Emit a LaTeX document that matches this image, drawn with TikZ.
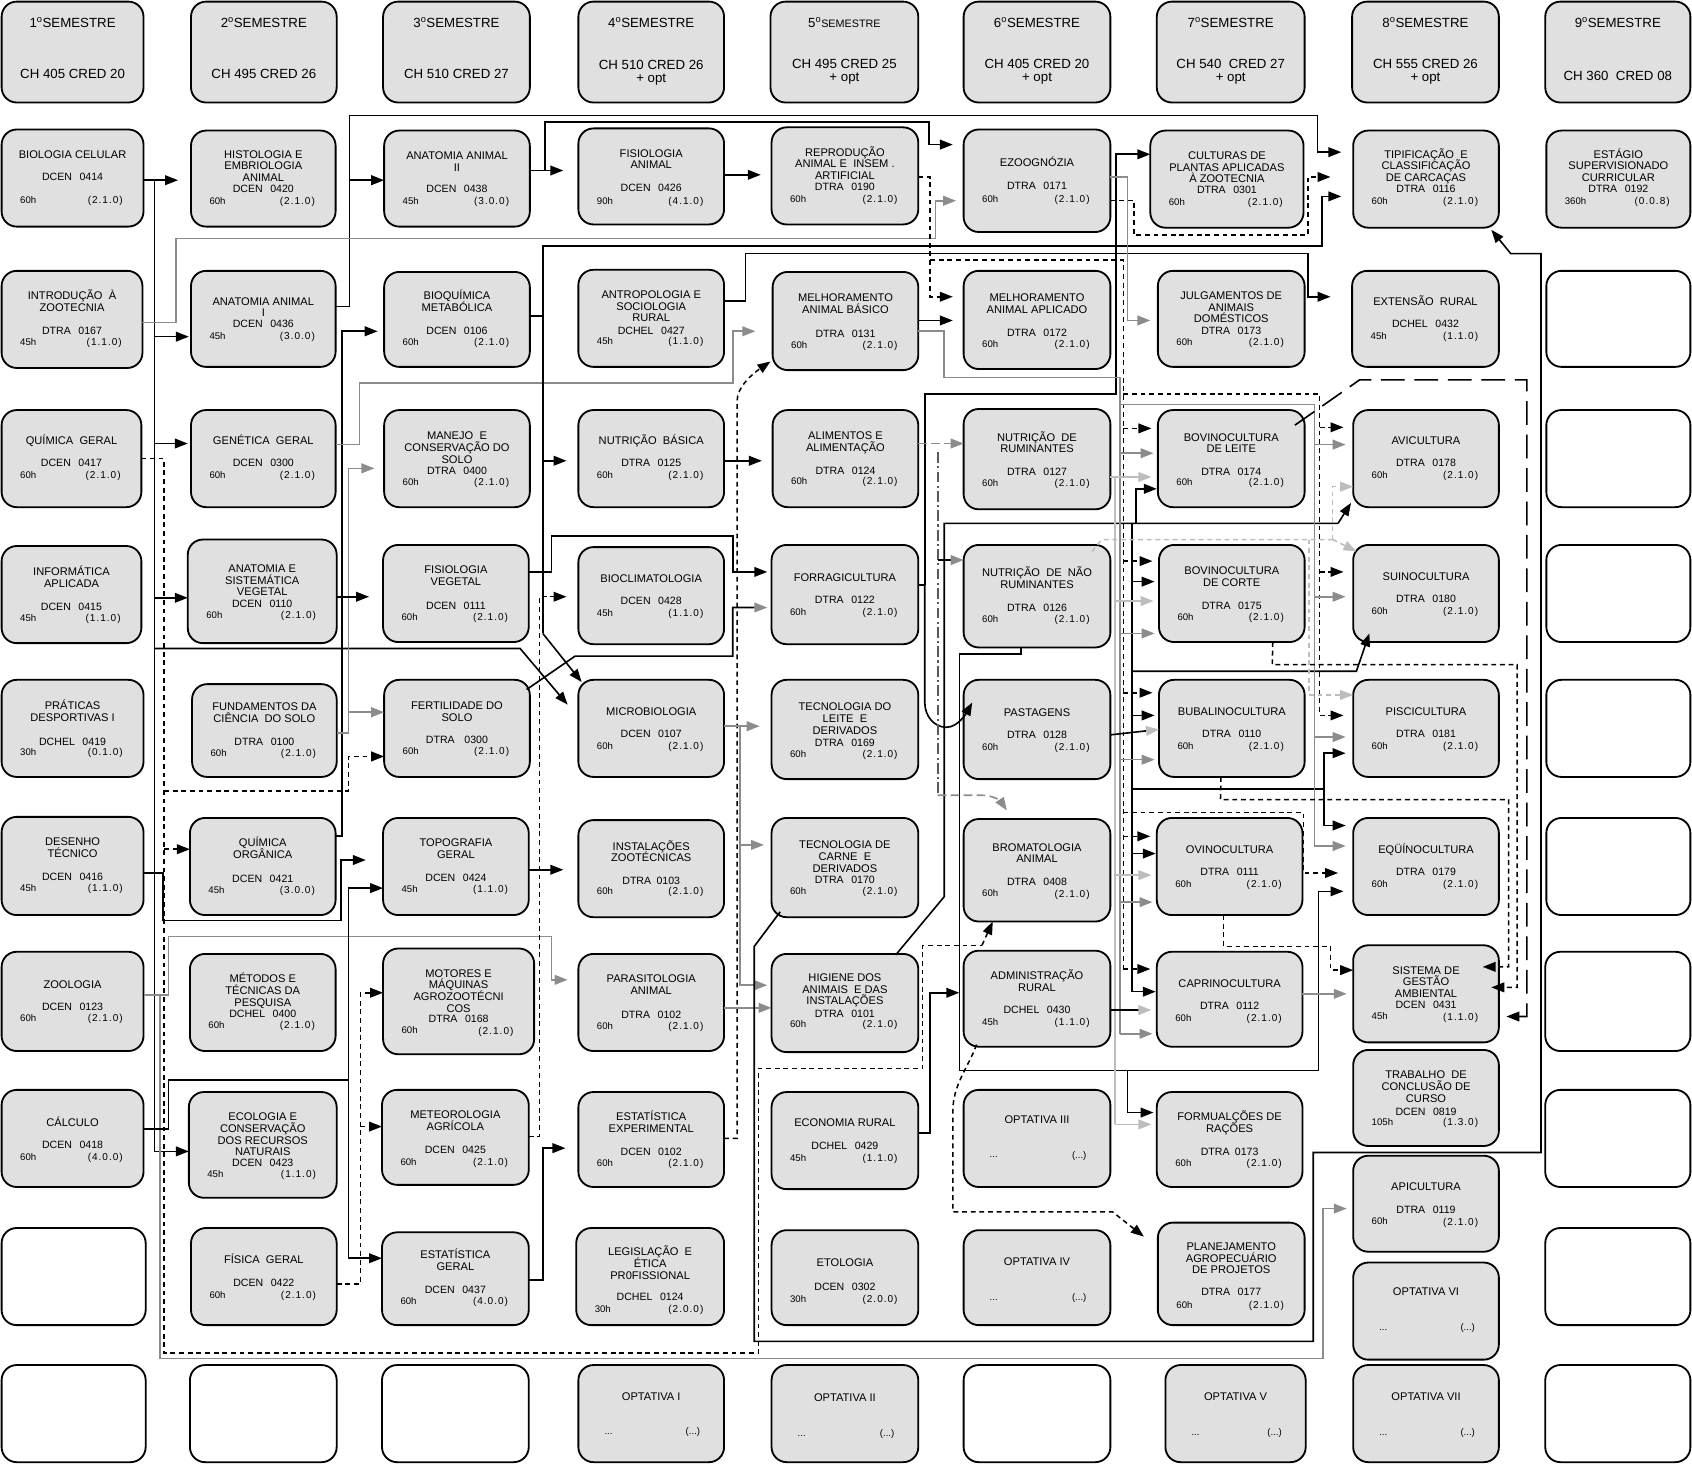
\documentclass[tikz,border=0pt]{standalone}
\usepackage{fontspec}
\setmainfont{Liberation Sans}
\newfontfamily\crdfam[LetterSpace=10]{Liberation Sans}
\usetikzlibrary{arrows.meta,calc}
\definecolor{boxfill}{gray}{0.88}
\definecolor{midg}{gray}{0.55}
\definecolor{lgry}{gray}{0.74}
\definecolor{dkg}{gray}{0.35}
\tikzset{
 box/.style={draw=black, line width=1.7pt, rounded corners=14pt, fill=boxfill, inner sep=0pt, outer sep=0pt},
 ebox/.style={box, fill=white},
 ttlf/.style={font=\fontsize{10.3}{11}\selectfont, inner sep=0pt, anchor=base},
 codf/.style={font=\fontsize{9.8}{11}\selectfont, inner sep=0pt, anchor=base},
 hrsf/.style={font=\fontsize{8.9}{10}\selectfont, inner sep=0pt, anchor=base west},
 crdf/.style={font=\crdfam\fontsize{9.3}{10}\selectfont, inner sep=0pt, anchor=base east},
 hdrf/.style={font=\fontsize{12.3}{14}\selectfont, inner sep=0pt, anchor=base},
 ln/.style={line width=1.5pt},
 arr/.style={-{Triangle[length=12pt,width=9pt]}},
 arrg/.style={-{Triangle[length=12pt,width=9pt,color=midg]}},
 arrl/.style={-{Triangle[length=12pt,width=9pt,color=lgry]}},
 gr/.style={ln, draw=midg},
 lg/.style={ln, draw=lgry},
 dsh/.style={ln, line width=1.4pt, dash pattern=on 4.5pt off 3.5pt},
}
\newcommand\crs[5]{\node[box, minimum width={#4pt-#2pt}, minimum height={#5pt-#3pt}] (#1) at ({(#2+#4)/2},{(#3+#5)/2}) {};}
\newcommand\ecrs[5]{\node[ebox, minimum width={#4pt-#2pt}, minimum height={#5pt-#3pt}] (#1) at ({(#2+#4)/2},{(#3+#5)/2}) {};}
\newcommand\ttl[3]{\foreach \ttxt [count=\ii] in {#3} {\node[ttlf] (#1-t\ii) at (#1.center |- 0,{#2+3.7+(\ii-1)*10.8}) {\ttxt};}}
\newcommand\cod[3]{\node[codf] (#1-c) at (#1.center |- 0,{#2+3.6}) {#3};}
\newcommand\hrs[4]{\node[hrsf, xshift=17pt] (#1-h) at (#1.west |- 0,{#2+3.2}) {#3};\node[crdf, xshift=-19pt] (#1-r) at (#1.east |- 0,{#2+3.3}) {#4};}
\newcommand\ohrs[2]{\node[hrsf, xshift=24pt] (#1-h) at (#1.west |- 0,{#2+3.1}) {...};\node[hrsf, anchor=base east, xshift=-22pt] (#1-r) at (#1.east |- 0,{#2+3.2}) {(...)};}
\begin{document}
\begin{tikzpicture}[x=1pt,y=-1pt]
\useasboundingbox (0,0) rectangle (1568,1359);
% ---------- headers
\crs{h1}{1.5}{1.5}{133}{95}
\node[hdrf] (h1-a) at (h1.center|-0,25.5) {1\textsuperscript{o}SEMESTRE};
\node[hdrf] (h1-b) at (h1.center|-0,72.5) {CH 405 CRED 20};
\crs{h2}{177}{1.5}{312}{95}
\node[hdrf] (h2-a) at (h2.center|-0,25.5) {2\textsuperscript{o}SEMESTRE};
\node[hdrf] (h2-b) at (h2.center|-0,72.5) {CH 495 CRED 26};
\crs{h3}{355}{1.5}{491}{95}
\node[hdrf] (h3-a) at (h3.center|-0,25.5) {3\textsuperscript{o}SEMESTRE};
\node[hdrf] (h3-b) at (h3.center|-0,72.5) {CH 510 CRED 27};
\crs{h4}{536}{1.5}{671}{95}
\node[hdrf] (h4-a) at (h4.center|-0,25.5) {4\textsuperscript{o}SEMESTRE};
\node[hdrf] (h4-b) at (h4.center|-0,64) {CH 510 CRED 26};
\node[hdrf] (h4-c) at (h4.center|-0,76) {+ opt};
\crs{h5}{714}{1.5}{851}{95}
\node[hdrf] (h5-a) at (h5.center|-0,25.5) {5\textsuperscript{o}{\fontsize{10}{12}\selectfont SEMESTRE}};
\node[hdrf] (h5-b) at (h5.center|-0,63.5) {CH 495 CRED 25};
\node[hdrf] (h5-c) at (h5.center|-0,75.5) {+ opt};
\crs{h6}{893}{1.5}{1029}{95}
\node[hdrf] (h6-a) at (h6.center|-0,25.5) {6\textsuperscript{o}SEMESTRE};
\node[hdrf] (h6-b) at (h6.center|-0,63.5) {CH 405 CRED 20};
\node[hdrf] (h6-c) at (h6.center|-0,75.5) {+ opt};
\crs{h7}{1072}{1.5}{1209}{95}
\node[hdrf] (h7-a) at (h7.center|-0,25.5) {7\textsuperscript{o}SEMESTRE};
\node[hdrf] (h7-b) at (h7.center|-0,63.5) {CH 540~ CRED 27};
\node[hdrf] (h7-c) at (h7.center|-0,75.5) {+ opt};
\crs{h8}{1253}{1.5}{1389}{95}
\node[hdrf] (h8-a) at (h8.center|-0,25.5) {8\textsuperscript{o}SEMESTRE};
\node[hdrf] (h8-b) at (h8.center|-0,63.5) {CH 555 CRED 26};
\node[hdrf] (h8-c) at (h8.center|-0,75.5) {+ opt};
\crs{h9}{1432}{1.5}{1566.5}{95}
\node[hdrf] (h9-a) at (h9.center|-0,25.5) {9\textsuperscript{o}SEMESTRE};
\node[hdrf] (h9-b) at (h9.center|-0,74.5) {CH 360~ CRED 08};
% ---------- row 1
\crs{bio}{1.5}{120}{133}{210}\ttl{bio}{143}{BIOLOGIA CELULAR}\cod{bio}{164}{DCEN\hspace{7pt}0414}\hrs{bio}{185}{60h}{(2.1.0)}
\crs{histo}{177}{121}{311}{210}\ttl{histo}{143}{HISTOLOGIA E,EMBRIOLOGIA,ANIMAL}\cod{histo}{175}{DCEN\hspace{7pt}0420}\hrs{histo}{186}{60h}{(2.1.0)}
\crs{anat2}{356}{121}{491}{210}\ttl{anat2}{144}{ANATOMIA ANIMAL,II}\cod{anat2}{175}{DCEN\hspace{7pt}0438}\hrs{anat2}{186}{45h}{(3.0.0)}
\crs{fisan}{536}{119}{671}{208}\ttl{fisan}{142}{FISIOLOGIA,ANIMAL}\cod{fisan}{174}{DCEN\hspace{7pt}0426}\hrs{fisan}{186}{90h}{(4.1.0)}
\crs{repro}{715}{118}{851}{208}\ttl{repro}{141}{REPRODUÇÃO,ANIMAL E~ INSEM .,ARTIFICIAL}\cod{repro}{173}{DTRA\hspace{7pt}0190}\hrs{repro}{184}{60h}{(2.1.0)}
\crs{ezoo}{893}{120}{1029}{215}\ttl{ezoo}{151}{EZOOGNÓZIA}\cod{ezoo}{172}{DTRA\hspace{7pt}0171}\hrs{ezoo}{184}{60h}{(2.1.0)}
\crs{cult}{1066}{121}{1208}{211}\ttl{cult}{144}{CULTURAS DE,PLANTAS APLICADAS,À ZOOTECNIA}\cod{cult}{176}{DTRA\hspace{7pt}0301}\hrs{cult}{187}{60h}{(2.1.0)}
\crs{tipif}{1254}{121}{1389}{211}\ttl{tipif}{143}{TIPIFICAÇÃO~ E,CLASSIFICAÇÃO,DE CARCAÇAS}\cod{tipif}{175}{DTRA\hspace{7pt}0116}\hrs{tipif}{186}{60h}{(2.1.0)}
\crs{estag}{1433}{121}{1566.5}{211}\ttl{estag}{143}{ESTÁGIO,SUPERVISIONADO,CURRICULAR}\cod{estag}{175}{DTRA\hspace{7pt}0192}\hrs{estag}{186}{360h}{(0.0.8)}
% ---------- row 2
\crs{intro}{1.5}{251}{132}{341}\ttl{intro}{274}{INTRODUÇÃO~ À,ZOOTECNIA}\cod{intro}{306}{DTRA\hspace{7pt}0167}\hrs{intro}{317}{45h}{(1.1.0)}
\crs{anat1}{177}{251}{311}{340}\ttl{anat1}{279}{ANATOMIA ANIMAL,I}\cod{anat1}{300}{DCEN\hspace{7pt}0436}\hrs{anat1}{311}{45h}{(3.0.0)}
\crs{bioq}{356}{252}{491}{340}\ttl{bioq}{274}{BIOQUÍMICA,METABÓLICA}\cod{bioq}{306}{DCEN\hspace{7pt}0106}\hrs{bioq}{317}{60h}{(2.1.0)}
\crs{antro}{536}{250}{671}{340}\ttl{antro}{273}{ANTROPOLOGIA E,SOCIOLOGIA,RURAL}\cod{antro}{306}{DCHEL\hspace{7pt}0427}\hrs{antro}{316}{45h}{(1.1.0)}
\crs{melbas}{716}{252}{851}{343}\ttl{melbas}{276}{MELHORAMENTO,ANIMAL BÁSICO}\cod{melbas}{309}{DTRA\hspace{7pt}0131}\hrs{melbas}{320}{60h}{(2.1.0)}
\crs{melapl}{893}{251}{1029}{342}\ttl{melapl}{276}{MELHORAMENTO,ANIMAL APLICADO}\cod{melapl}{308}{DTRA\hspace{7pt}0172}\hrs{melapl}{319}{60h}{(2.1.0)}
\crs{julg}{1073}{251}{1209}{340}\ttl{julg}{274}{JULGAMENTOS DE,ANIMAIS,DOMÉSTICOS}\cod{julg}{306}{DTRA\hspace{7pt}0173}\hrs{julg}{317}{60h}{(2.1.0)}
\crs{ext}{1253}{251}{1389}{340}\ttl{ext}{279}{EXTENSÃO~ RURAL}\cod{ext}{300}{DCHEL\hspace{7pt}0432}\hrs{ext}{311}{45h}{(1.1.0)}
\ecrs{e92}{1433}{251}{1566.5}{340}
% ---------- row 3
\crs{quimg}{1.5}{380}{131}{470}\ttl{quimg}{408}{QUÍMICA~ GERAL}\cod{quimg}{429}{DCEN\hspace{7pt}0417}\hrs{quimg}{440}{60h}{(2.1.0)}
\crs{genet}{177}{380}{311}{470}\ttl{genet}{408}{GENÉTICA~ GERAL}\cod{genet}{429}{DCEN\hspace{7pt}0300}\hrs{genet}{440}{60h}{(2.1.0)}
\crs{manejo}{356}{380}{491}{470}\ttl{manejo}{404}{MANEJO~ E,CONSERVAÇÃO DO,SOLO}\cod{manejo}{436}{DTRA\hspace{7pt}0400}\hrs{manejo}{447}{60h}{(2.1.0)}
\crs{nutbas}{536}{380}{671}{470}\ttl{nutbas}{408}{NUTRIÇÃO~ BÁSICA}\cod{nutbas}{429}{DTRA\hspace{7pt}0125}\hrs{nutbas}{440}{60h}{(2.1.0)}
\crs{alim}{716}{380}{851}{470}\ttl{alim}{404}{ALIMENTOS E,ALIMENTAÇÃO}\cod{alim}{436}{DTRA\hspace{7pt}0124}\hrs{alim}{446}{60h}{(2.1.0)}
\crs{nutrum}{893}{379}{1029}{472}\ttl{nutrum}{405}{NUTRIÇÃO~ DE,RUMINANTES}\cod{nutrum}{437}{DTRA\hspace{7pt}0127}\hrs{nutrum}{448}{60h}{(2.1.0)}
\crs{bovlei}{1073}{380}{1209}{470}\ttl{bovlei}{405}{BOVINOCULTURA,DE LEITE}\cod{bovlei}{437}{DTRA\hspace{7pt}0174}\hrs{bovlei}{447}{60h}{(2.1.0)}
\crs{avic}{1254}{380}{1389}{470}\ttl{avic}{408}{AVICULTURA}\cod{avic}{429}{DTRA\hspace{7pt}0178}\hrs{avic}{440}{60h}{(2.1.0)}
\ecrs{e93}{1433}{380}{1566.5}{470}
% ---------- row 4
\crs{info}{1.5}{506}{131}{596}\ttl{info}{530}{INFORMÁTICA,APLICADA}\cod{info}{562}{DCEN\hspace{7pt}0415}\hrs{info}{573}{45h}{(1.1.0)}
\crs{anatveg}{174}{500}{312}{596}\ttl{anatveg}{527}{ANATOMIA E,SISTEMÁTICA,VEGETAL}\cod{anatveg}{559}{DCEN\hspace{7pt}0110}\hrs{anatveg}{570}{60h}{(2.1.0)}
\crs{fisveg}{355}{505}{490}{595}\ttl{fisveg}{528}{FISIOLOGIA,VEGETAL}\cod{fisveg}{561}{DCEN\hspace{7pt}0111}\hrs{fisveg}{572}{60h}{(2.1.0)}
\crs{biocl}{536}{507}{671}{597}\ttl{biocl}{536}{BIOCLIMATOLOGIA}\cod{biocl}{557}{DCEN\hspace{7pt}0428}\hrs{biocl}{568}{45h}{(1.1.0)}
\crs{forr}{715}{505}{851}{597}\ttl{forr}{535}{FORRAGICULTURA}\cod{forr}{556}{DTRA\hspace{7pt}0122}\hrs{forr}{567}{60h}{(2.1.0)}
\crs{nutnrum}{893}{505}{1029}{600}\ttl{nutnrum}{531}{NUTRIÇÃO~ DE~ NÃO,RUMINANTES}\cod{nutnrum}{563}{DTRA\hspace{7pt}0126}\hrs{nutnrum}{574}{60h}{(2.1.0)}
\crs{bovcor}{1074}{505}{1209}{595}\ttl{bovcor}{529}{BOVINOCULTURA,DE CORTE}\cod{bovcor}{561}{DTRA\hspace{7pt}0175}\hrs{bovcor}{572}{60h}{(2.1.0)}
\crs{suin}{1254}{505}{1389}{595}\ttl{suin}{534}{SUINOCULTURA}\cod{suin}{555}{DTRA\hspace{7pt}0180}\hrs{suin}{566}{60h}{(2.1.0)}
\ecrs{e94}{1433}{505}{1566.5}{595}
% ---------- row 5
\crs{prat}{1.5}{630}{133}{720}\ttl{prat}{654}{PRÁTICAS,DESPORTIVAS I}\cod{prat}{687}{DCHEL\hspace{7pt}0419}\hrs{prat}{697}{30h}{(0.1.0)}
\crs{fund}{178}{634}{312}{720}\ttl{fund}{655}{FUNDAMENTOS DA,CIÊNCIA~ DO SOLO}\cod{fund}{687}{DTRA\hspace{7pt}0100}\hrs{fund}{698}{60h}{(2.1.0)}
\crs{fert}{356}{630}{491}{720}\ttl{fert}{654}{FERTILIDADE DO,SOLO}\cod{fert}{685}{DTRA\hspace{9pt}0300}\hrs{fert}{696}{60h}{(2.1.0)}
\crs{micro}{536}{630}{671}{720}\ttl{micro}{659}{MICROBIOLOGIA}\cod{micro}{680}{DCEN\hspace{7pt}0107}\hrs{micro}{691}{60h}{(2.1.0)}
\crs{tecleite}{715}{630}{851}{722}\ttl{tecleite}{655}{TECNOLOGIA DO,LEITE~ E,DERIVADOS}\cod{tecleite}{688}{DTRA\hspace{7pt}0169}\hrs{tecleite}{699}{60h}{(2.1.0)}
\crs{past}{893}{630}{1029}{722}\ttl{past}{660}{PASTAGENS}\cod{past}{681}{DTRA\hspace{7pt}0128}\hrs{past}{692}{60h}{(2.1.0)}
\crs{bubal}{1074}{630}{1209}{720}\ttl{bubal}{659}{BUBALINOCULTURA}\cod{bubal}{680}{DTRA\hspace{7pt}0110}\hrs{bubal}{691}{60h}{(2.1.0)}
\crs{pisc}{1254}{630}{1389}{720}\ttl{pisc}{659}{PISCICULTURA}\cod{pisc}{680}{DTRA\hspace{7pt}0181}\hrs{pisc}{691}{60h}{(2.1.0)}
\ecrs{e95}{1433}{630}{1566.5}{720}
% ---------- row 6
\crs{des}{1.5}{757}{133}{848}\ttl{des}{780}{DESENHO,TÉCNICO}\cod{des}{812}{DCEN\hspace{7pt}0416}\hrs{des}{823}{45h}{(1.1.0)}
\crs{qorg}{176}{758}{311}{848}\ttl{qorg}{781}{QUÍMICA,ORGÂNICA}\cod{qorg}{814}{DCEN\hspace{7pt}0421}\hrs{qorg}{825}{45h}{(3.0.0)}
\crs{topo}{355}{758}{490}{848}\ttl{topo}{781}{TOPOGRAFIA,GERAL}\cod{topo}{813}{DCEN\hspace{7pt}0424}\hrs{topo}{824}{45h}{(1.1.0)}
\crs{inst}{536}{760}{671}{850}\ttl{inst}{784}{INSTALAÇÕES,ZOOTÉCNICAS}\cod{inst}{816}{DTRA\hspace{5pt}0103}\hrs{inst}{826}{60h}{(2.1.0)}
\crs{teccar}{715}{758}{851}{850}\ttl{teccar}{783}{TECNOLOGIA DE,CARNE~ E,DERIVADOS}\cod{teccar}{815}{DTRA\hspace{7pt}0170}\hrs{teccar}{826}{60h}{(2.1.0)}
\crs{brom}{893}{759}{1029}{854}\ttl{brom}{785}{BROMATOLOGIA,ANIMAL}\cod{brom}{817}{DTRA\hspace{7pt}0408}\hrs{brom}{828}{60h}{(2.1.0)}
\crs{ovin}{1072}{758}{1207}{848}\ttl{ovin}{787}{OVINOCULTURA}\cod{ovin}{808}{DTRA\hspace{7pt}0111}\hrs{ovin}{819}{60h}{(2.1.0)}
\crs{equi}{1254}{758}{1389}{848}\ttl{equi}{787}{EQÜÍNOCULTURA}\cod{equi}{808}{DTRA\hspace{7pt}0179}\hrs{equi}{819}{60h}{(2.1.0)}
\ecrs{e96}{1433}{758}{1566.5}{848}
% ---------- row 7
\crs{zoo}{1.5}{882}{133}{974}\ttl{zoo}{912}{ZOOLOGIA}\cod{zoo}{933}{DCEN\hspace{7pt}0123}\hrs{zoo}{943}{60h}{(2.1.0)}
\crs{metod}{176}{884}{311}{974}\ttl{metod}{907}{MÉTODOS E,TÉCNICAS DA,PESQUISA}\cod{metod}{939}{DCHEL\hspace{7pt}0400}\hrs{metod}{950}{60h}{(2.1.0)}
\crs{motor}{355}{879}{495}{977}\ttl{motor}{902}{MOTORES E,MÁQUINAS,AGROZOOTÉCNI,COS}\cod{motor}{944}{DTRA\hspace{7pt}0168}\hrs{motor}{955}{60h}{(2.1.0)}
\crs{paras}{536}{884}{671}{974}\ttl{paras}{907}{PARASITOLOGIA,ANIMAL}\cod{paras}{940}{DTRA\hspace{7pt}0102}\hrs{paras}{951}{60h}{(2.1.0)}
\crs{hig}{715}{884}{851}{975}\ttl{hig}{906}{HIGIENE DOS,ANIMAIS~ E DAS,INSTALAÇÕES}\cod{hig}{939}{DTRA\hspace{7pt}0101}\hrs{hig}{949}{60h}{(2.1.0)}
\crs{adm}{893}{881}{1029}{970}\ttl{adm}{904}{ADMINISTRAÇÃO,RURAL}\cod{adm}{936}{DCHEL\hspace{7pt}0430}\hrs{adm}{947}{45h}{(1.1.0)}
\crs{capr}{1072}{882}{1207}{970}\ttl{capr}{911}{CAPRINOCULTURA}\cod{capr}{932}{DTRA\hspace{7pt}0112}\hrs{capr}{943}{60h}{(2.1.0)}
\crs{sga}{1254}{876}{1389}{966}\ttl{sga}{899}{SISTEMA DE,GESTÃO,AMBIENTAL}\cod{sga}{931}{DCEN\hspace{7pt}0431}\hrs{sga}{942}{45h}{(1.1.0)}
\ecrs{e97}{1432}{882}{1566.5}{974}
% ---------- row 8
\crs{calc}{1.5}{1010}{133}{1100}\ttl{calc}{1040}{CÁLCULO}\cod{calc}{1061}{DCEN\hspace{7pt}0418}\hrs{calc}{1072}{60h}{(4.0.0)}
\crs{ecol}{175}{1012}{312}{1110}\ttl{ecol}{1035}{ECOLOGIA E,CONSERVAÇÃO,DOS RECURSOS,NATURAIS}\cod{ecol}{1077}{DCEN\hspace{7pt}0423}\hrs{ecol}{1088}{45h}{(1.1.0)}
\crs{meteo}{354}{1010}{490}{1098}\ttl{meteo}{1033}{METEOROLOGIA,AGRÍCOLA}\cod{meteo}{1065}{DCEN\hspace{7pt}0425}\hrs{meteo}{1077}{60h}{(2.1.0)}
\crs{estexp}{536}{1012}{671}{1100}\ttl{estexp}{1035}{ESTATÍSTICA,EXPERIMENTAL}\cod{estexp}{1067}{DCEN\hspace{7pt}0102}\hrs{estexp}{1078}{60h}{(2.1.0)}
\crs{econ}{715}{1012}{851}{1102}\ttl{econ}{1040}{ECONOMIA RURAL}\cod{econ}{1062}{DCHEL\hspace{7pt}0429}\hrs{econ}{1073}{45h}{(1.1.0)}
\crs{opt3}{893}{1010}{1029}{1100}\ttl{opt3}{1037}{OPTATIVA III}\ohrs{opt3}{1070}
\crs{form}{1072}{1012}{1207}{1100}\ttl{form}{1035}{FORMUALÇÕES DE,RAÇÕES}\cod{form}{1067}{DTRA\hspace{5pt}0173}\hrs{form}{1078}{60h}{(2.1.0)}
\crs{tcc}{1254}{973}{1389}{1062}\ttl{tcc}{996}{TRABALHO~ DE,CONCLUSÃO DE,CURSO}\cod{tcc}{1030}{DCEN\hspace{7pt}0819}\hrs{tcc}{1040}{105h}{(1.3.0)}
\ecrs{e98}{1432}{1010}{1566.5}{1100}
% ---------- row 9
\ecrs{e19}{1.5}{1138}{135}{1228}
\crs{fis}{177}{1138}{312}{1228}\ttl{fis}{1167}{FÍSICA~ GERAL}\cod{fis}{1189}{DCEN\hspace{7pt}0422}\hrs{fis}{1200}{60h}{(2.1.0)}
\crs{estger}{354}{1142}{490}{1228}\ttl{estger}{1163}{ESTATÍSTICA,GERAL}\cod{estger}{1195}{DCEN\hspace{7pt}0437}\hrs{estger}{1206}{60h}{(4.0.0)}
\crs{legis}{534}{1138}{671}{1228}\ttl{legis}{1160}{LEGISLAÇÃO~ E,ÉTICA,PR0FISSIONAL}\cod{legis}{1202}{DCHEL\hspace{7pt}0124}\hrs{legis}{1213}{30h}{(2.0.0)}
\crs{etol}{715}{1140}{851}{1228}\ttl{etol}{1170}{ETOLOGIA}\cod{etol}{1192}{DCEN\hspace{7pt}0302}\hrs{etol}{1204}{30h}{(2.0.0)}
\crs{opt4}{893}{1140}{1029}{1228}\ttl{opt4}{1169}{OPTATIVA IV}\ohrs{opt4}{1202}
\crs{plan}{1073}{1133}{1209}{1228}\ttl{plan}{1155}{PLANEJAMENTO,AGROPECUÁRIO,DE PROJETOS}\cod{plan}{1197}{DTRA\hspace{7pt}0177}\hrs{plan}{1209}{60h}{(2.1.0)}
\crs{apic}{1254}{1071}{1389}{1160}\ttl{apic}{1100}{APICULTURA}\cod{apic}{1121}{DTRA\hspace{7pt}0119}\hrs{apic}{1132}{60h}{(2.1.0)}
\crs{opt6}{1254}{1170}{1389}{1260}\ttl{opt6}{1197}{OPTATIVA VI}\ohrs{opt6}{1230}
\ecrs{e99}{1432}{1138}{1566.5}{1228}
% ---------- row 10
\ecrs{e110}{1.5}{1265}{135}{1355}
\ecrs{e210}{176}{1265}{312}{1355}
\ecrs{e310}{354}{1265}{490}{1355}
\crs{opt1}{536}{1265}{671}{1355}\ttl{opt1}{1294}{OPTATIVA I}\ohrs{opt1}{1326}
\crs{opt2}{715}{1265}{851}{1355}\ttl{opt2}{1295}{OPTATIVA II}\ohrs{opt2}{1328}
\ecrs{e610}{893}{1265}{1029}{1355}
\crs{opt5}{1080}{1265}{1210}{1355}\ttl{opt5}{1294}{OPTATIVA V}\ohrs{opt5}{1327}
\crs{opt7}{1254}{1265}{1389}{1355}\ttl{opt7}{1294}{OPTATIVA VII}\ohrs{opt7}{1327}
\ecrs{e910}{1432}{1265}{1566.5}{1355}
% ================= connectors
% biologia trunk
\draw[ln] (bio.east|-0,167) -- (143,167) -- (143,1067);
\draw[ln,arr,shorten >=12pt] (143,167) -- (histo.west|-0,167);
\draw[ln,arr,shorten >=2pt] (143,312) -- (anat1.west|-0,312);
\draw[ln,arr,shorten >=3pt] (143,411) -- (genet.west|-0,411);
\draw[ln,arr] (143,554) -- (anatveg.west|-0,554);
\draw[ln,arr] (143,1067) -- (ecol.west|-0,1067);
\draw[ln,arr] (143,601) -- (482,601) -- ($(micro.west)+(-10,-22)$);
% quimica geral (dashed)
\draw[dsh] (quimg.east|-0,425) -- (152,425) -- (152,1254) -- (703,1254) -- (703,990) -- (855,990) -- (855,876) -- (910,876);
\draw[dsh,arr] (910,876) -- ($(brom.south west)+(27,0)$);
\draw[dsh,arr] (152,787) -- (qorg.west|-0,787);
\draw[dsh,arr] (152,733) -- (323,733) -- (323,701) -- (fert.west|-0,701);
% zoologia (gray)
\draw[gr,arr,shorten >=10pt] (zoo.east|-0,922) -- (156,922) -- (156,868) -- (511,868) -- (511,908) -- (paras.west|-0,908);
\draw[gr,arr,shorten >=6pt] (148,922) -- (148,1259) -- (1226,1259) -- (1226,1120) -- (apic.west|-0,1120);
% desenho, calculo, fisica
\draw[ln,arr,shorten >=16pt] (des.east|-0,809) -- (151,809) -- (151,853) -- (316,853) -- (316,797) -- (topo.west|-0,797);
\draw[ln] (calc.east|-0,1046) -- (156,1046) -- (156,1001) -- (323,1001);
\draw[ln,arr] (323,1001) -- (323,823) -- (topo.west|-0,823);
\draw[ln,arr] (323,1001) -- (323,1166) -- (estger.west|-0,1166);
\draw[dsh,arr] (fis.east|-0,1190) -- (334,1190) -- (334,920) -- (motor.west|-0,920);
\draw[dsh,arr] (334,1044) -- (meteo.west|-0,1044);
% quimica organica, anatomia I, introducao, genetica, fundamentos
\draw[ln,arr,shorten >=6pt] (qorg.east|-0,775) -- (317,775) -- (317,307) -- (bioq.west|-0,307);
\draw[ln,arr,shorten >=11pt] (anat1.east|-0,284) -- (324,284) -- (324,107) -- (1221,107) -- (1221,141) -- (tipif.west|-0,141);
\draw[ln,arr] (324,167) -- (anat2.west|-0,167);
\draw[gr,arr,shorten >=7pt] (intro.east|-0,299) -- (163,299) -- (163,221) -- (867,221) -- (867,186) -- (ezoo.west|-0,186);
\draw[gr,arr,shorten >=16pt] (genet.east|-0,412) -- (333,412) -- (333,355) -- (679,355) -- (679,307) -- (melbas.west|-0,307);
\draw[gr,arr,shorten >=9pt] (fund.east|-0,679) -- (323,679) -- (323,434) -- (manejo.west|-0,434);
\draw[gr,arr] (323,660) -- (fert.west|-0,660);
% anatomia II, bioquimica
\draw[ln,arr,shorten >=14pt] (anat2.east|-0,158) -- (fisan.west|-0,158);
\draw[ln,arr,shorten >=10pt] (505,158) -- (505,113) -- (861,113) -- (861,134) -- (ezoo.west|-0,134);
\draw[ln] (bioq.east|-0,293) -- (503,293);
\draw[ln,arr,shorten >=11pt] (503,587) -- (503,228) -- (1225,228) -- (1225,182) -- (tipif.west|-0,182);
\draw[ln,arr,shorten >=11pt] (503,427) -- (nutbas.west|-0,427);
\draw[ln,arr] (503,587) -- ($(micro.north west)+(3,2)$);
% fisiologia vegetal, fertilidade, meteorologia, anat. vegetal, topografia, estat. geral
\draw[ln,arr,shorten >=4pt] (fisveg.east|-0,530) -- (511,530) -- (511,497) -- (679,497) -- (679,530) -- (forr.west|-0,530);
\draw[ln,arrg,shorten >=4pt] ($(fert.north east)+(-3,9)$) -- (533,608) -- (679,608) -- (679,563) -- (forr.west|-0,563);
\draw[dsh,arr,shorten >=11pt] (meteo.east|-0,1053) -- (500,1053) -- (500,553) -- (biocl.west|-0,553);
\draw[ln,arr,shorten >=13pt] (anatveg.east|-0,553) -- (fisveg.west|-0,553);
\draw[ln,arr,shorten >=14pt] (topo.east|-0,806) -- (inst.west|-0,806);
\draw[ln,arr,shorten >=12pt] (estger.east|-0,1186) -- (503,1186) -- (503,1064) -- (estexp.west|-0,1064);
% column 4
\draw[ln,arr,shorten >=10pt] (fisan.east|-0,162) -- (repro.west|-0,162);
\draw[ln,arr,shorten >=20pt] (antro.east|-0,279) -- (691,279) -- (691,235) -- (1212,235) -- (1212,275) -- (ext.west|-0,275);
\draw[ln,arr,shorten >=10pt] (nutbas.east|-0,427) -- (alim.west|-0,427);
\draw[dsh,arr] (estexp.east|-0,1055) -- (683,1055) -- (683,372) .. controls (683,358) and (698,346) .. ($(melbas.south west)+(-2,-8)$);
\draw[gr,arr,shorten >=11pt] (micro.east|-0,673) -- (tecleite.west|-0,673);
\draw[gr,arr,shorten >=7pt] (686,673) -- (686,783) -- (teccar.west|-0,783);
\draw[gr,arr,shorten >=4pt] (686,783) -- (686,913) -- (hig.west|-0,913);
\draw[gr,arr] (paras.east|-0,934) -- (hig.west|-0,934);
% tecnologia de carne -> tipificacao
\draw[ln,arr] ($(teccar.south west)+(8,-5)$) -- (699,877) -- (699,1243) -- (1217,1243) -- (1217,1068) -- (1428,1068) -- (1428,235) -- (1400,235) -- ($(tipif.south east)+(-7,2)$);
% higiene tree
\draw[ln] ($(hig.north east)+(-21,1)$) -- (875,831) -- (875,485) -- (1240,485);
\draw[ln,arr] (1240,485) -- ($(avic.south west)+(-2,-4)$);
\draw[ln,arr,shorten >=1pt] (1053,485) -- (1053,453) -- (bovlei.west|-0,453);
\draw[ln] (1049,485) -- (1049,919);
\draw[ln,arr,shorten >=4pt] (1049,539) -- (bovcor.west|-0,539);
\draw[ln,arr,shorten >=4pt] (1049,663) -- (bubal.west|-0,663);
\draw[ln,arr,shorten >=1pt] (1049,791) -- (ovin.west|-0,791);
\draw[ln,arr,shorten >=1pt] (1049,919) -- (capr.west|-0,919);
\draw[ln,arr] (1049,622) -- (1257,622) -- ($(suin.south west)+(15,-8)$);
\draw[ln] (1049,731) -- (1227,731);
\draw[ln,arr,shorten >=7pt] (1227,731) -- (1227,698) -- (pisc.west|-0,698);
\draw[ln,arr,shorten >=7pt] (1227,731) -- (1227,765) -- (equi.west|-0,765);
% nutricao de nao ruminantes tree
\draw[ln] ($(nutnrum.south)+(-15,0)$) -- (946,606) -- (889,606) -- (889,992) -- (1222,992);
\draw[ln,arr,shorten >=9pt] (1222,992) -- (1222,826) -- (equi.west|-0,826);
\draw[ln,arr,shorten >=3pt] (1045,992) -- (1045,1031) -- (form.west|-0,1031);
% economia, administracao
\draw[ln,arr,shorten >=4pt] (econ.east|-0,1050) -- (862,1050) -- (862,920) -- (adm.west|-0,920);
\draw[dsh,arr] ($(adm.south west)+(12,-2)$) .. controls (897,990) and (883,1005) .. (883,1030) -- (883,1123) -- (1031,1123) -- ($(plan.north west)+(-13,13)$);
% forragicultura
\draw[ln] (forr.east|-0,542) -- (857,542);
\draw[ln,arr] (857,542) -- (857,365) -- (1034,365) -- (1034,143) -- (cult.west|-0,143);
\draw[ln,arr] (857,542) -- (857,651) .. controls (857,664) and (866,674) .. (877,674) .. controls (888,674) and (896,660) .. ($(past.north west)+(8,21)$);
% ezoognozia
\draw[dsh,arr,shorten >=21pt] (ezoo.east|-0,186) -- (1051,186) -- (1051,218) -- (1212,218) -- (1212,164) -- (tipif.west|-0,164);
\draw[gr,arr,shorten >=7pt] (ezoo.east|-0,164) -- (1045,164) -- (1045,297) -- (julg.west|-0,297);
% reproducao (dashed)
\draw[dsh] (repro.east|-0,164) -- (862,164) -- (862,241) -- (1041,241) -- (1041,898);
\draw[dsh,arr,shorten >=10pt] (862,241) -- (862,275) -- (melapl.west|-0,275);
\foreach \yy/\nn in {397/bovlei,520/bovcor,642/bubal,775/ovin,898/capr} \draw[dsh,arr,shorten >=6pt] (1041,\yy) -- (\nn.west|-0,\yy);
\draw[dsh] (1041,365) -- (1223,365) -- (1223,663);
\foreach \yy/\nn in {396/avic,530/suin,663/pisc} \draw[dsh,arr,shorten >=9pt] (1223,\yy) -- (\nn.west|-0,\yy);
\draw[dsh,arr,shorten >=14pt] (1041,753) -- (1208,753) -- (1208,809) -- (equi.west|-0,809);
% melhoramento basico
\draw[ln,arr,shorten >=10pt] (melbas.east|-0,297) -- (melapl.west|-0,297);
\draw[gr] (melbas.east|-0,307) -- (875,307) -- (875,350) -- (1038,350) -- (1038,958);
\foreach \yy/\nn in {420/bovlei,587/bovcor,704/bubal,836/ovin,958/capr} \draw[gr,arr,shorten >=4pt] (1038,\yy) -- (\nn.west|-0,\yy);
\draw[gr] (1038,375) -- (1218,375) -- (1218,784);
\foreach \yy/\nn in {412/avic,553/suin,683/pisc,784/equi} \draw[gr,arr,shorten >=7pt] (1218,\yy) -- (\nn.west|-0,\yy);
% nutricao de ruminantes (light gray)
\draw[lg,arr,shorten >=6pt] (nutrum.east|-0,442) -- (bovlei.west|-0,442);
\draw[lg] (1033,442) -- (1033,1042);
\foreach \yy/\nn in {557/bovcor,811/ovin,1042/form} \draw[lg,arr,shorten >=5pt] (1033,\yy) -- (\nn.west|-0,\yy);
\draw[ln,arrl] (past.east|-0,681) -- (bubal.west|-0,676);
\draw[ln,arrl,shorten >=5pt] (adm.east|-0,936) -- (capr.west|-0,936);
% nutricao de nao ruminantes (light gray dashed)
\draw[lg,dsh] ($(nutnrum.north east)+(-17,6)$) -- ($(nutnrum.north east)+(-8,-5)$) -- (1235,500);
\draw[lg,dsh,arr] (1235,500) -- ($(suin.north west)+(3,6)$);
\draw[lg,dsh,arr] (1235,500) -- (1235,451) -- (avic.west|-0,451);
\draw[lg,dsh,arr] (1213,500) -- (1213,644) -- (pisc.west|-0,644);
% alimentos
\draw[gr,dash pattern=on 8pt off 4pt,arr] (alim.east|-0,411) -- (nutrum.west|-0,411);
\draw[ln,draw=dkg,dash pattern=on 10pt off 3pt on 2pt off 3pt] (869,419) -- (869,737);
\draw[ln,arrg] (869,519) -- (nutnrum.west|-0,519);
\draw[gr,dash pattern=on 8pt off 4pt,arr] (869,737) -- (910,737) .. controls (920,737) and (927,742) .. ($(brom.north west)+(40,-8)$);
% sistema de gestao ambiental
\draw[dsh,arr,shorten >=-7pt] ($(bovcor.south)+(38,0)$) -- (1179,616) -- (1406,616) -- (1406,915) -- (sga.east|-0,915);
\draw[dsh,arr,shorten >=-15pt] ($(bubal.south)+(-10,0)$) -- (1131,741) -- (1398,741) -- (1398,896) -- (sga.east|-0,896);
\draw[ln,dash pattern=on 22pt off 9pt,arr,shorten >=7pt] ($(bovlei.north east)+(-9,14)$) -- (1260,352) -- (1415,352) -- (1415,942) -- (sga.east|-0,942);
\draw[dsh,arr] ($(ovin.south)+(-5.5,0)$) -- (1134,877) -- (1233,877) -- (1233,899) -- (sga.west|-0,899);
\draw[gr,arr,shorten >=6pt] (capr.east|-0,921) -- (sga.west|-0,921);
\end{tikzpicture}
\end{document}
